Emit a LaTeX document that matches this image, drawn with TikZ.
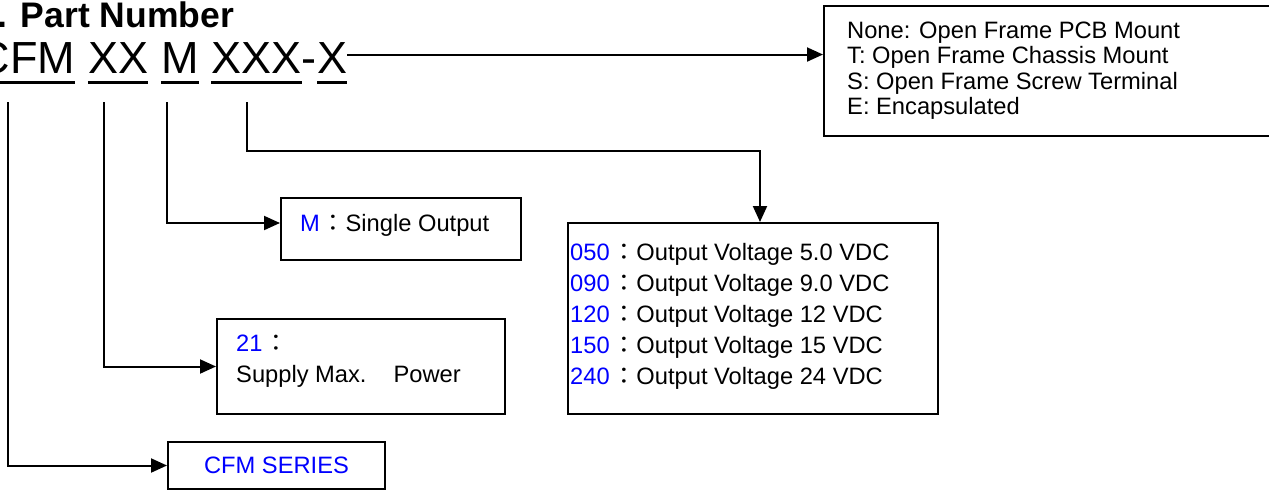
\documentclass[tikz,border=0pt]{standalone}
\usepackage{fontspec}
\setmainfont{Liberation Sans}
\newfontfamily\cjk{Noto Sans CJK TC}
\usetikzlibrary{arrows.meta}
\definecolor{codeblue}{RGB}{0,0,255}
\begin{document}
\begin{tikzpicture}[x=1pt,y=-1pt,
  box/.style={draw, line width=2pt, inner sep=0pt, anchor=north west},
  txt/.style={inner sep=0pt, anchor=base west, font=\fontsize{23.7}{28}\selectfont},
  pn/.style={inner sep=0pt, anchor=base west, font=\fontsize{45}{54}\selectfont},
  conn/.style={line width=2pt, -{Triangle[length=16pt,width=14pt]}},
  uline/.style={line width=3.5pt},
]
\useasboundingbox (0,0) rectangle (1269,491);

% title
\node[inner sep=0pt, anchor=base west, font=\bfseries\fontsize{35.5}{42}\selectfont] (title) at (-22,27) {1. Part Number};

% part number
\node[pn] (p1) at (-22.5,73) {CFM};
\node[pn] (p2) at ([xshift=12.5pt]p1.base east) {XX};
\node[pn] (p3) at ([xshift=12.5pt]p2.base east) {M};
\node[pn] (p4) at ([xshift=12.5pt]p3.base east) {XXX};
\node[pn] (p5) at (p4.base east) {-};
\node[pn] (p6) at (p5.base east) {X};
\foreach \n in {p1,p2,p3,p4,p6}
  \draw[uline] ([yshift=-9.5pt]\n.base west) -- ([yshift=-9.5pt]\n.base east);

% boxes
\node[box, minimum width=460pt, minimum height=130pt] (b1) at (823,5) {};
\node[box, minimum width=240pt, minimum height=62pt] (mbox) at (280,197) {};
\node[box, minimum width=370pt, minimum height=191pt] (vbox) at (567,222) {};
\node[box, minimum width=288pt, minimum height=95pt] (pbox) at (216,318) {};
\node[box, minimum width=217pt, minimum height=47pt] (sbox) at (167,441) {};

% texts
\node[txt] (t1) at (847,38) {None: Open Frame PCB Mount};
\node[txt] (t2) at (847,63.5) {T: Open Frame Chassis Mount};
\node[txt] (t3) at (847,89) {S: Open Frame Screw Terminal};
\node[txt] (t4) at (847,114.5) {E: Encapsulated};

\node[txt] (mt) at (300,231) {\textcolor{codeblue}{M}\hspace{2pt}{\cjk ：}Single Output};

\foreach \c/\v [count=\i from 0] in {050/5.0,090/9.0,120/12,150/15,240/24}
  \node[txt] (v\i) at (570,{260+31*\i}) {\textcolor{codeblue}{\c}\hspace{3pt}{\cjk ：}Output Voltage \v\ VDC};

\node[txt] (pt1) at (236,351) {\textcolor{codeblue}{21}\hspace{2pt}{\cjk ：}};
\node[txt] (pt2) at (236,382) {Supply Max.\hspace*{27pt}Power};

\node[inner sep=0pt, text=codeblue, font=\fontsize{23.7}{28}\selectfont] (st) at (sbox.center) {CFM SERIES};

% connectors
\coordinate (c1) at (8,102);
\coordinate (c2) at (104,102);
\coordinate (c3) at (167,102);
\coordinate (c4) at (247,102);
\coordinate (c5) at (760,151);
\draw[conn] ([yshift=3pt]p6.east) -- ([yshift=3pt]p6.east -| b1.west);
\draw[conn] (c1) |- (sbox.west);
\draw[conn] (c2) |- (pbox.west);
\draw[conn] (c3) |- ([yshift=6pt]mbox.west);
\draw[conn] (c4) |- (c5) -- (c5 |- vbox.north);
\end{tikzpicture}
\end{document}
